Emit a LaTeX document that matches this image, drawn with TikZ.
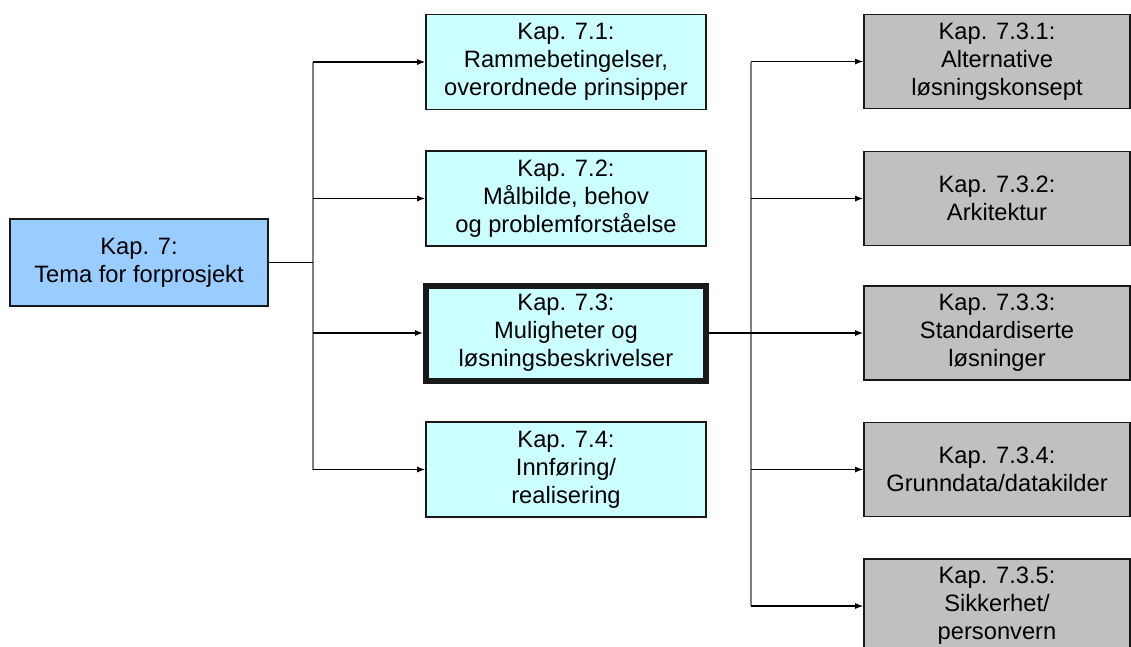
\documentclass[tikz,border=0pt]{standalone}
\usepackage{fontspec}
\setmainfont{Liberation Sans}
\usetikzlibrary{arrows.meta}

\definecolor{rootblue}{HTML}{99CCFF}
\definecolor{chapcyan}{HTML}{CCFFFF}
\definecolor{subgray}{HTML}{C0C0C0}
\definecolor{trunkgray}{HTML}{7F7F7F}

\tikzset{
  box/.style={draw=black!90, line width=1.6pt, align=center, inner sep=0pt,
    font=\fontsize{23.7}{28}\selectfont},
  rootbox/.style={box, fill=rootblue, minimum width=258, minimum height=87},
  chapbox/.style={box, fill=chapcyan, minimum width=280, minimum height=95},
  subbox/.style={box, fill=subgray, minimum width=266, minimum height=94},
  link/.style={line width=1.2pt, black},
  trunk/.style={line width=1.4pt, trunkgray},
  feed/.style={link, -{Latex[length=8pt,width=6pt]}}
}

\begin{document}
\begin{tikzpicture}[x=1pt,y=-1pt]
  \useasboundingbox (0,0) rectangle (1131,646);
  %%%%% BOXES %%%%%
  \node[rootbox] (root) at (139,262.5) {Kap. 7:\\Tema for forprosjekt};

  \node[chapbox] (k71) at (566,62)    {Kap. 7.1:\\Rammebetingelser,\\overordnede prinsipper};
  \node[chapbox] (k72) at (566,198.5) {Kap. 7.2:\\Målbilde, behov\\og problemforståelse};
  \node[chapbox, line width=6pt] (k73) at (566,333) {Kap. 7.3:\\Muligheter og\\løsningsbeskrivelser};
  \node[chapbox] (k74) at (566,469.5) {Kap. 7.4:\\Innføring/\\realisering};

  \node[subbox] (k731) at (997,61.5)  {Kap. 7.3.1:\\Alternative\\løsningskonsept};
  \node[subbox] (k732) at (997,198.5) {Kap. 7.3.2:\\Arkitektur};
  \node[subbox] (k733) at (997,333)   {Kap. 7.3.3:\\Standardiserte\\løsninger};
  \node[subbox] (k734) at (997,469.5) {Kap. 7.3.4:\\Grunndata/datakilder};
  \node[subbox] (k735) at (997,606)   {Kap. 7.3.5:\\Sikkerhet/\\personvern};

  \coordinate (fork1) at (313,0);
  \coordinate (fork2) at (751,0);

  %%%%% FIRST LEVEL %%%%%
  \draw[trunk] (fork1 |- k71.west) -- (fork1 |- k74.west);
  \draw[link] (root.east) -- (root.east -| fork1);
  \foreach \n in {k71,k72,k73,k74}
    \draw[feed] (fork1 |- \n.west) -- (\n.west);

  %%%%% SECOND LEVEL %%%%%
  \draw[trunk] (fork2 |- k731.west) -- (fork2 |- k735.west);
  \draw[link] (k73.east) -- (fork2 |- k73.east);
  \foreach \n in {k731,k732,k733,k734,k735}
    \draw[feed] (fork2 |- \n.west) -- (\n.west);
\end{tikzpicture}
\end{document}
